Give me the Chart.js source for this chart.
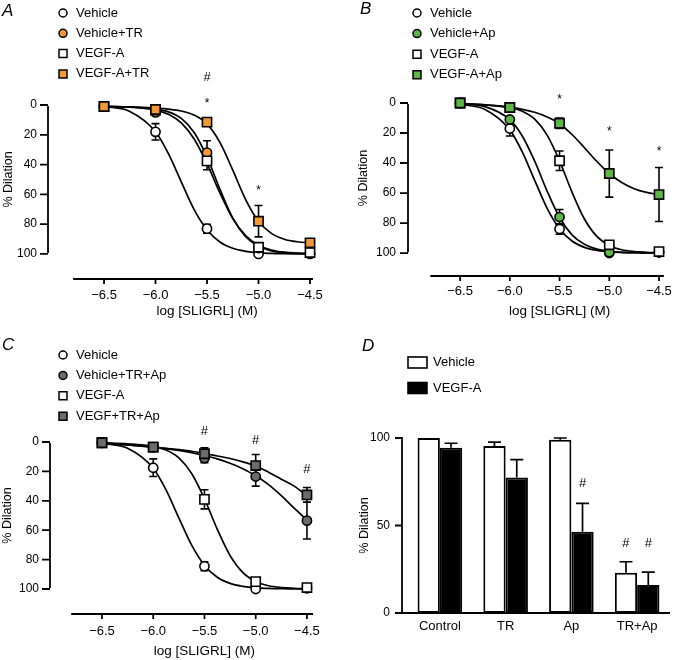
<!DOCTYPE html>
<html>
<head>
<meta charset="utf-8">
<script src="https://cdn.jsdelivr.net/npm/chart.js@4.4.0/dist/chart.umd.min.js"></script>
<style>
  html, body { margin: 0; padding: 0; background: #fff; }
  #fig { position: relative; width: 680px; height: 660px; }
  .panel { position: absolute; width: 340px; height: 330px; }
</style>
</head>
<body>
<div id="fig">
  <div class="panel" style="left:0;top:0"><canvas id="cA" width="340" height="330"></canvas></div>
  <div class="panel" style="left:340px;top:0"><canvas id="cB" width="340" height="330"></canvas></div>
  <div class="panel" style="left:0;top:330px"><canvas id="cC" width="340" height="330"></canvas></div>
  <div class="panel" style="left:340px;top:330px"><canvas id="cD" width="340" height="330"></canvas></div>
</div>
<script>
// ---- shared axes ----
const doseX = [-6.5, -6.0, -5.5, -5.0, -4.5];
const curveX = [-6.5, -6.25, -6.0, -5.875, -5.75, -5.625, -5.5, -5.375, -5.25, -5.125, -5.0, -4.875, -4.75, -4.625, -4.5];
const xTicks = [-6.5, -6.0, -5.5, -5.0, -4.5];
const yTicks = [0, 20, 40, 60, 80, 100];

// ---- panel A ----
const aVeh = [1, 18, 83, 100, 100];
const aVehErr = [0, 5.5, 3, 0, 0];
const aVehTR = [1, 5, 32, 96, 99.5];
const aVehTRErr = [0, 1, 8, 1, 0];
const aVegf = [1, 3.5, 37.5, 95.5, 99];
const aVegfErr = [0, 1, 6, 1, 0.5];
const aVegfTR = [1, 3, 11.5, 78, 92.5];
const aVegfTRErr = [0, 1, 2, 10.5, 1.5];
const aVehFit = [0.9, 4.3, 17.9, 32.6, 51.6, 70.2, 83.8, 92.0, 96.2, 98.2, 99.2, 99.6, 99.8, 99.9, 100];
const aVehTRFit = [1, 1.3, 2.8, 4.6, 9.0, 18.5, 35.0, 56.5, 76.0, 88.4, 94.9, 97.9, 99.1, 99.6, 99.8];
const aVegfFit = [1, 1.5, 3.4, 6.2, 12.0, 22.8, 39.4, 59.0, 76.2, 87.7, 94.1, 97.3, 98.8, 99.4, 99.7];
const aVegfTRFit = [1, 1.3, 2.2, 2.8, 4.0, 6.8, 12.7, 25.1, 43.7, 63.5, 78.1, 86.2, 90.1, 91.8, 92.5];
const aMarkX = [-5.5, -5.5, -5.0];
const aMarkY = [-18.8, -2.7, 55.7];
const aMarkText = ['#', '*', '*'];

// ---- panel B ----
const bVeh = [0, 17, 84, 100, 99.5];
const bVehErr = [0, 5, 3.5, 0, 0];
const bVehAp = [0, 11, 76, 99.5, 99.5];
const bVehApErr = [0, 1, 5, 0.5, 0];
const bVegf = [0, 3, 38.5, 94.5, 99];
const bVegfErr = [0, 1, 6.5, 1, 0.5];
const bVegfAp = [0, 3, 13.5, 47, 61];
const bVegfApErr = [0, 1, 3.5, 15.7, 18];
const bVehFit = [0.9, 4.3, 17.9, 32.6, 51.6, 70.2, 83.8, 92.0, 96.2, 98.2, 99.2, 99.6, 99.8, 99.9, 100];
const bVehApFit = [0.5, 2.4, 11.1, 22.0, 38.8, 58.8, 76.3, 87.9, 94.2, 97.4, 98.8, 99.5, 99.8, 99.9, 100];
const bVegfFit = [0.5, 1.2, 3.0, 5.5, 10.8, 21.4, 38.6, 59.4, 77.3, 88.9, 94.9, 97.8, 99.0, 99.5, 99.8];
const bVegfApFit = [0.3, 1.2, 3.0, 4.2, 6.2, 9.3, 13.8, 21.0, 29.8, 39.0, 47.0, 53.0, 57.1, 59.6, 61.1];
const bMarkX = [-5.5, -5.0, -4.5];
const bMarkY = [-4, 17.3, 30.7];
const bMarkText = ['*', '*', '*'];

// ---- panel C ----
const cVeh = [0.5, 17.5, 84.5, 100, 99.5];
const cVehErr = [0, 6, 3, 0, 0];
const cVehTRAp = [0.5, 3.5, 11, 23.5, 53.5];
const cVehTRApErr = [0, 1, 3, 6.5, 12.5];
const cVegf = [0.5, 3.5, 39, 95, 99];
const cVegfErr = [0, 1, 6.5, 1, 0.5];
const cVegfTRAp = [0.5, 3.5, 8, 16, 36];
const cVegfTRApErr = [0, 1, 4, 7.5, 5];
const cVehFit = [0.9, 4.3, 17.9, 32.6, 51.6, 70.2, 83.8, 92.0, 96.2, 98.2, 99.2, 99.6, 99.8, 99.9, 100];
const cVehTRApFit = [0.5, 2.0, 3.5, 4.5, 5.7, 7.2, 9.2, 11.5, 14.5, 18.2, 23.0, 29.0, 36.5, 45.0, 53.0];
const cVegfFit = [0.5, 1.2, 3.0, 5.5, 10.8, 21.4, 38.6, 59.4, 77.3, 88.9, 94.9, 97.8, 99.0, 99.5, 99.8];
const cVegfTRApFit = [0.5, 2.0, 3.5, 4.3, 5.2, 6.3, 7.8, 9.5, 11.2, 13.5, 16.3, 20.5, 25.3, 30.0, 36.5];
const cMarkX = [-5.5, -5.0, -4.5];
const cMarkY = [-7.5, -1.4, 18.4];
const cMarkText = ['#', '#', '#'];

// ---- panel D ----
const dCats = ['Control', 'TR', 'Ap', 'TR+Ap'];
const dVeh = [100, 95.5, 99, 23];
const dVehErr = [0, 2.2, 1, 6.3];
const dVegf = [94.5, 77.5, 46.5, 16];
const dVegfErr = [2.5, 10.1, 16.2, 7.4];
const dYTicks = [0, 50, 100];
const dMarkCat = [2, 3, 3];
const dMarkSeries = [1, 0, 1];
const dMarkY = [74.3, 40, 40];

const ORANGE = '#f0993b';
const GREEN = '#5fb44a';
const GREY = '#6b6b6b';
const FONT = '"Liberation Sans", Arial, Helvetica, sans-serif';

Chart.defaults.font.family = FONT;
Chart.defaults.color = '#000';

function fmtLog(v) {
  return (v < 0 ? '\u2212' : '') + Math.abs(v).toFixed(1);
}

// error bars drawn under the markers
const errorBars = {
  id: 'errorBars',
  beforeDatasetsDraw(chart) {
    const ctx = chart.ctx, y = chart.scales.y;
    ctx.save();
    ctx.strokeStyle = '#000';
    ctx.lineWidth = 1.6;
    chart.data.datasets.forEach((ds, i) => {
      if (!ds.errors) return;
      chart.getDatasetMeta(i).data.forEach((pt, j) => {
        const e = ds.errors[j];
        if (!e) return;
        const v = ds.data[j].y;
        const y1 = y.getPixelForValue(v - e), y2 = y.getPixelForValue(v + e);
        ctx.beginPath();
        ctx.moveTo(pt.x, y1); ctx.lineTo(pt.x, y2);
        ctx.moveTo(pt.x - 4, y1); ctx.lineTo(pt.x + 4, y1);
        ctx.moveTo(pt.x - 4, y2); ctx.lineTo(pt.x + 4, y2);
        ctx.stroke();
      });
    });
    ctx.restore();
  }
};

// prism-like detached axes
function offsetAxes(o) {
  return {
    id: 'offsetAxes',
    beforeDatasetsDraw(chart) {
      const {ctx, chartArea: ca, scales: {x, y}} = chart;
      const yx = ca.left - (o.yGap || 0);
      ctx.save();
      ctx.strokeStyle = '#000';
      ctx.lineWidth = 1.8;
      ctx.beginPath();
      ctx.moveTo(yx, y.getPixelForValue(o.yFrom) + 0.9);
      ctx.lineTo(yx, y.getPixelForValue(o.yTo) - 0.9);
      y.ticks.forEach(t => {
        const p = y.getPixelForValue(t.value);
        ctx.moveTo(yx - o.yTick, p); ctx.lineTo(yx, p);
      });
      const xs = o.xFrom !== undefined ? x.getPixelForValue(o.xFrom) : yx - 0.9;
      ctx.moveTo(xs, ca.bottom); ctx.lineTo(ca.right, ca.bottom);
      if (o.xTick) {
        x.ticks.forEach(t => {
          const p = x.getPixelForValue(t.value);
          ctx.moveTo(p, ca.bottom); ctx.lineTo(p, ca.bottom + o.xTick);
        });
      }
      ctx.stroke();
      ctx.restore();
    }
  };
}

function drawMark(ctx, text, px, py) {
  if (text === '*') {
    ctx.font = '12px ' + FONT;
    ctx.fillText(text, px, py + 3);
  } else {
    ctx.font = '13px ' + FONT;
    ctx.fillText(text, px, py);
  }
}

function drawYTitle(ctx, cx, cy) {
  ctx.save();
  ctx.translate(cx, cy);
  ctx.rotate(-Math.PI / 2);
  ctx.textAlign = 'center';
  ctx.textBaseline = 'middle';
  ctx.font = '12.5px ' + FONT;
  ctx.fillText('% Dilation', 0, 0);
  ctx.restore();
}

function curvePanel(id, p) {
  const datasets = [];
  p.series.forEach((s, k) => {
    datasets.push({
      type: 'line',
      data: curveX.map((x, i) => ({x: x, y: s.fit[i]})),
      borderColor: '#000', borderWidth: 1.7, pointRadius: 0, fill: false,
      cubicInterpolationMode: 'monotone', order: 20 + k, clip: false
    });
  });
  p.series.forEach((s, k) => {
    datasets.push({
      type: 'scatter', label: s.label,
      data: doseX.map((x, i) => ({x: x, y: s.pts[i]})),
      errors: s.err, legendShape: s.shape,
      pointStyle: s.shape, pointRadius: s.shape === 'rect' ? 6.5 : 4.6,
      backgroundColor: s.color, borderColor: '#000', borderWidth: 1.6,
      order: 10 - k, clip: false
    });
  });

  const decor = {
    id: 'decor',
    afterDraw(chart) {
      const {ctx, scales: {x, y}} = chart;
      ctx.save();
      ctx.fillStyle = '#000';
      ctx.textBaseline = 'middle';
      ctx.textAlign = 'left';
      ctx.font = 'italic 17px ' + FONT;
      ctx.fillText(p.letter, p.letterX, p.letterY);
      ctx.font = '13px ' + FONT;
      chart.data.datasets.filter(d => d.legendShape).forEach((d, i) => {
        const cy = p.legendY + i * p.legendDy;
        ctx.fillStyle = d.backgroundColor;
        ctx.strokeStyle = '#000';
        ctx.lineWidth = 1.5;
        ctx.beginPath();
        if (d.legendShape === 'circle') ctx.arc(p.legendX, cy, 4, 0, Math.PI * 2);
        else ctx.rect(p.legendX - 4, cy - 4, 8, 8);
        ctx.fill(); ctx.stroke();
        ctx.fillStyle = '#000';
        ctx.fillText(d.label, p.legendX + 13, cy);
      });
      ctx.textAlign = 'center';
      ctx.font = '13.5px ' + FONT;
      ctx.fillText('log [SLIGRL] (M)', x.getPixelForValue(-5.5), p.xTitleY);
      p.marks.x.forEach((mx, i) => {
        drawMark(ctx, p.marks.t[i], x.getPixelForValue(mx), y.getPixelForValue(p.marks.y[i]));
      });
      drawYTitle(ctx, p.yTitleX, y.getPixelForValue(50));
      ctx.restore();
    }
  };

  return new Chart(document.getElementById(id), {
    type: 'scatter',
    data: {datasets: datasets},
    options: {
      responsive: false, animation: false, events: [],
      layout: {padding: {left: 0, top: p.top, right: 340 - p.right, bottom: 0}},
      plugins: {legend: {display: false}, tooltip: {enabled: false}},
      scales: {
        x: {
          type: 'linear', min: p.xMin, max: p.xMax,
          afterBuildTicks: s => { s.ticks = xTicks.map(v => ({value: v})); },
          afterFit: s => { s.height = 330 - p.bottom; },
          grid: {display: false, drawTicks: false}, border: {display: false},
          ticks: {font: {size: 13}, padding: p.xTickPad, maxRotation: 0, autoSkip: false, callback: v => fmtLog(v)}
        },
        y: {
          type: 'linear', reverse: true, min: 0, max: p.yMax,
          afterBuildTicks: s => { s.ticks = yTicks.map(v => ({value: v})); },
          afterFit: s => { s.width = p.left; },
          grid: {display: false, drawTicks: false}, border: {display: false},
          ticks: {font: {size: 12}, padding: p.yTickPad}
        }
      }
    },
    plugins: [offsetAxes({yFrom: 0, yTo: 100, xFrom: -6.8, yTick: 8, xTick: 5}), errorBars, decor]
  });
}

curvePanel('cA', {
  left: 48, top: 105, right: 313, bottom: 279, xMin: -7.044, xMax: -4.471, yMax: 116.8,
  xTickPad: 9, xTitleY: 311, yTickPad: 11, yTitleX: 9,
  letter: 'A', letterX: 2, letterY: 11, legendX: 63, legendY: 13, legendDy: 20.3,
  marks: {x: aMarkX, y: aMarkY, t: aMarkText},
  series: [
    {label: 'Vehicle', shape: 'circle', color: '#fff', pts: aVeh, err: aVehErr, fit: aVehFit},
    {label: 'Vehicle+TR', shape: 'circle', color: ORANGE, pts: aVehTR, err: aVehTRErr, fit: aVehTRFit},
    {label: 'VEGF-A', shape: 'rect', color: '#fff', pts: aVegf, err: aVegfErr, fit: aVegfFit},
    {label: 'VEGF-A+TR', shape: 'rect', color: ORANGE, pts: aVegfTR, err: aVegfTRErr, fit: aVegfTRFit}
  ]
});

curvePanel('cB', {
  left: 68, top: 103, right: 333, bottom: 276, xMin: -7.024, xMax: -4.451, yMax: 115.3,
  xTickPad: 8, xTitleY: 311, yTickPad: 12, yTitleX: 24,
  letter: 'B', letterX: 20, letterY: 9, legendX: 77, legendY: 13, legendDy: 20.6,
  marks: {x: bMarkX, y: bMarkY, t: bMarkText},
  series: [
    {label: 'Vehicle', shape: 'circle', color: '#fff', pts: bVeh, err: bVehErr, fit: bVehFit},
    {label: 'Vehicle+Ap', shape: 'circle', color: GREEN, pts: bVehAp, err: bVehApErr, fit: bVehApFit},
    {label: 'VEGF-A', shape: 'rect', color: '#fff', pts: bVegf, err: bVegfErr, fit: bVegfFit},
    {label: 'VEGF-A+Ap', shape: 'rect', color: GREEN, pts: bVegfAp, err: bVegfApErr, fit: bVegfApFit}
  ]
});

curvePanel('cC', {
  left: 50, top: 112, right: 313, bottom: 284, xMin: -7.007, xMax: -4.441, yMax: 117,
  xTickPad: 10, xTitleY: 321, yTickPad: 11, yTitleX: 8,
  letter: 'C', letterX: 2, letterY: 15, legendX: 63, legendY: 25, legendDy: 20.4,
  marks: {x: cMarkX, y: cMarkY, t: cMarkText},
  series: [
    {label: 'Vehicle', shape: 'circle', color: '#fff', pts: cVeh, err: cVehErr, fit: cVehFit},
    {label: 'Vehicle+TR+Ap', shape: 'circle', color: GREY, pts: cVehTRAp, err: cVehTRApErr, fit: cVehTRApFit},
    {label: 'VEGF-A', shape: 'rect', color: '#fff', pts: cVegf, err: cVegfErr, fit: cVegfFit},
    {label: 'VEGF+TR+Ap', shape: 'rect', color: GREY, pts: cVegfTRAp, err: cVegfTRApErr, fit: cVegfTRApFit}
  ]
});

// ---- panel D: bar chart ----
const barErrors = {
  id: 'barErrors',
  afterDatasetsDraw(chart) {
    const ctx = chart.ctx, y = chart.scales.y;
    ctx.save();
    ctx.strokeStyle = '#000';
    ctx.lineWidth = 1.7;
    chart.data.datasets.forEach((ds, i) => {
      chart.getDatasetMeta(i).data.forEach((bar, j) => {
        const e = ds.errors[j];
        if (!e) return;
        const y0 = y.getPixelForValue(ds.data[j]), y1 = y.getPixelForValue(ds.data[j] + e);
        ctx.beginPath();
        ctx.moveTo(bar.x, y0); ctx.lineTo(bar.x, y1);
        ctx.moveTo(bar.x - 6.5, y1); ctx.lineTo(bar.x + 6.5, y1);
        ctx.stroke();
      });
    });
    ctx.restore();
  }
};

const dDecor = {
  id: 'dDecor',
  afterDraw(chart) {
    const {ctx, scales: {y}} = chart;
    ctx.save();
    ctx.fillStyle = '#000';
    ctx.textBaseline = 'middle';
    ctx.textAlign = 'left';
    ctx.font = 'italic 17px ' + FONT;
    ctx.fillText('D', 22, 16);
    ctx.font = '13px ' + FONT;
    chart.data.datasets.forEach((d, i) => {
      const cy = 32.5 + i * 25.5;
      ctx.fillStyle = d.backgroundColor;
      ctx.strokeStyle = '#000';
      ctx.lineWidth = 1.6;
      ctx.fillRect(68, cy - 5.5, 19, 11);
      ctx.strokeRect(68, cy - 5.5, 19, 11);
      ctx.fillStyle = '#000';
      ctx.fillText(d.label, 93, cy);
    });
    ctx.textAlign = 'center';
    dMarkCat.forEach((c, i) => {
      const bar = chart.getDatasetMeta(dMarkSeries[i]).data[c];
      drawMark(ctx, '#', bar.x, y.getPixelForValue(dMarkY[i]));
    });
    drawYTitle(ctx, 25, y.getPixelForValue(50));
    ctx.restore();
  }
};

new Chart(document.getElementById('cD'), {
  type: 'bar',
  data: {
    labels: dCats,
    datasets: [
      {label: 'Vehicle', data: dVeh, errors: dVehErr, backgroundColor: '#fff', borderColor: '#000', borderWidth: 2, borderSkipped: false},
      {label: 'VEGF-A', data: dVegf, errors: dVegfErr, backgroundColor: '#000', borderColor: '#000', borderWidth: 2, borderSkipped: false}
    ]
  },
  options: {
    responsive: false, animation: false, events: [],
    layout: {padding: {left: 0, top: 108, right: 10, bottom: 0}},
    datasets: {bar: {categoryPercentage: 0.678, barPercentage: 1.0}},
    plugins: {legend: {display: false}, tooltip: {enabled: false}},
    scales: {
      x: {
        afterFit: s => { s.height = 330 - 283; },
        grid: {display: false, drawTicks: false}, border: {display: false},
        ticks: {font: {size: 13}, padding: 6}
      },
      y: {
        min: 0, max: 100,
        afterBuildTicks: s => { s.ticks = dYTicks.map(v => ({value: v})); },
        afterFit: s => { s.width = 67; },
        grid: {display: false, drawTicks: false}, border: {display: false},
        ticks: {font: {size: 12}, padding: 17}
      }
    }
  },
  plugins: [offsetAxes({yFrom: 0, yTo: 100, yGap: 5, yTick: 7, xTick: 0}), barErrors, dDecor]
});
</script>
</body>
</html>
